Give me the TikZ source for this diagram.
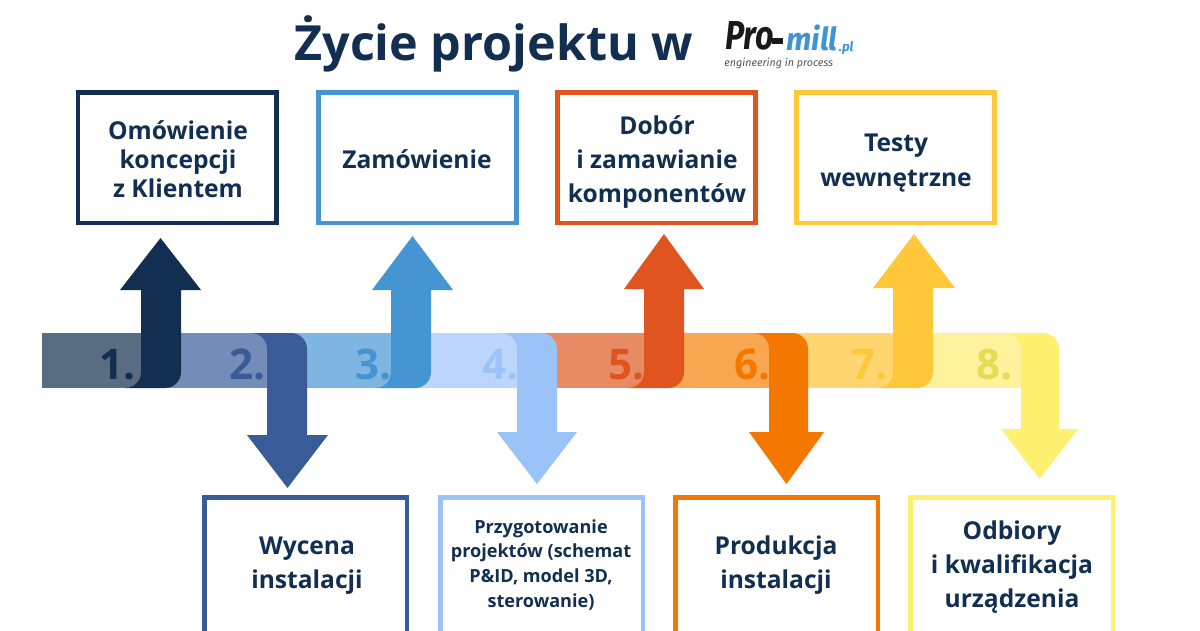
\documentclass[tikz,border=0pt]{standalone}
\usepackage{fontspec}
\setmainfont{Open Sans}
\newfontfamily\logofont{Fira Sans}
\definecolor{navy}{HTML}{122E50}
\definecolor{c1}{HTML}{122E50}\definecolor{b1}{HTML}{5A6C82}
\definecolor{c2}{HTML}{395C99}\definecolor{b2}{HTML}{738DB8}
\definecolor{c3}{HTML}{4595D3}\definecolor{b3}{HTML}{7FB6E1}
\definecolor{c4}{HTML}{9CC3F7}\definecolor{b4}{HTML}{BCD6FB}
\definecolor{c5}{HTML}{E0551F}\definecolor{b5}{HTML}{E68B64}
\definecolor{c6}{HTML}{F47800}\definecolor{b6}{HTML}{F8A650}
\definecolor{c7}{HTML}{FFC73A}\definecolor{b7}{HTML}{FFD670}
\definecolor{c8}{HTML}{FFF06F}\definecolor{b8}{HTML}{FEF29C}
\definecolor{n8}{HTML}{E6DC55}
\definecolor{logoblue}{HTML}{3F93D6}
\definecolor{logogray}{HTML}{555555}
\tikzset{
  x=0.02cm,y=-0.02cm,
  stagebox/.style={draw=#1,line width=0.09cm,fill=white,minimum width=3.97cm,minimum height=2.62cm,inner sep=0pt,anchor=north west},
  lowbox/.style={stagebox=#1,minimum width=4.06cm,minimum height=3.4cm},
  stagetext/.style={inner sep=0pt,align=center,text=navy,font=\fontsize{14}{#1}\selectfont\bfseries},
  numlabel/.style={font=\fontsize{24}{24}\selectfont\bfseries,anchor=base east,inner sep=0pt,text=#1},
}
\newcommand{\uparrowshape}[6]{%
  \fill[#1] (#2,#6) -- (#2,372) .. controls (#2,381) and ({#2-7},388) .. ({#2-16},388)
     -- ({#3-16},388) .. controls ({#3-7},388) and (#3,381) .. (#3,372)
     -- (#3,#6) -- (#5,#6) -- ({(#4+#5)/2},\apexy) -- (#4,#6) -- cycle;}
\newcommand{\downarrowshape}[6]{%
  \fill[#1] (#2,#6) -- (#2,349) .. controls (#2,340) and ({#2-7},333) .. ({#2-16},333)
     -- ({#3-16},333) .. controls ({#3-7},333) and (#3,340) .. (#3,349)
     -- (#3,#6) -- (#5,#6) -- ({(#4+#5)/2},\apexy) -- (#4,#6) -- cycle;}
\begin{document}
\begin{tikzpicture}
\useasboundingbox (0,0) rectangle (1200,630);
\clip (0,0) rectangle (1200,630);
\fill[white] (0,0) rectangle (1200,630);
% bar
\fill[b1] (42,333) rectangle (150,388);
\fill[b2] (150,333) rectangle (280,388);
\fill[b3] (280,333) rectangle (405,388);
\fill[b4] (405,333) rectangle (530,388);
\fill[b5] (530,333) rectangle (660,388);
\fill[b6] (660,333) rectangle (785,388);
\fill[b7] (785,333) rectangle (910,388);
\fill[b8] (910,333) rectangle (1035,388);
% numbers
\node[numlabel=c1] (n1) at (136,379) {1.};
\node[numlabel=c2] (n2) at (266,379) {2.};
\node[numlabel=c3] (n3) at (392,379) {3.};
\node[numlabel=c4] (n4) at (519,379) {4.};
\node[numlabel=c5] (n5) at (645,379) {5.};
\node[numlabel=c6] (n6) at (771,379) {6.};
\node[numlabel=c7] (n7) at (888,379) {7.};
\node[numlabel=n8] (n8) at (1013,379) {8.};
% arrows
\def\apexy{238}\uparrowshape{c1}{141}{181}{120}{201}{290}
\def\apexy{488}\downarrowshape{c2}{267}{307}{247}{328}{435}
\def\apexy{236}\uparrowshape{c3}{391}{431}{372}{453}{290}
\def\apexy{484}\downarrowshape{c4}{517}{557}{497}{577}{432}
\def\apexy{234}\uparrowshape{c5}{644}{684}{624}{704}{289}
\def\apexy{484}\downarrowshape{c6}{769}{808}{749}{824}{432}
\def\apexy{234}\uparrowshape{c7}{893}{933}{873}{955}{288}
\def\apexy{479}\downarrowshape{c8}{1021}{1059}{1001}{1078}{429}
% title
\node[anchor=base west,inner sep=0pt,text=navy,font=\fontsize{27.6}{27.6}\selectfont\bfseries] (title) at (294,60) {Życie projektu w};
% logo
\node[anchor=base west,inner sep=0pt,font=\logofont\fontsize{23}{23}\selectfont\bfseries\itshape,text=black!90] (logoa) at (725,49) {\scalebox{0.8}[1]{Pro}};
\fill[black!90] (772,38) rectangle (783,44);
\node[anchor=base west,inner sep=0pt,font=\logofont\fontsize{18}{18}\selectfont\bfseries\itshape,text=logoblue] (logob) at (786,50) {\scalebox{0.96}[1]{mill}};
\node[anchor=base west,inner sep=0pt,font=\logofont\fontsize{7.5}{8}\selectfont\bfseries\itshape,text=logoblue] (logoc) at (838.5,51) {.pl};
\node[anchor=base west,inner sep=0pt,font=\logofont\fontsize{6.1}{8}\selectfont\itshape,text=logogray] (logod) at (724,66) {engineering in process};
% boxes
\node[stagebox=c1] (box1) at (76,90) {};
\node[stagebox=c3] (box2) at (316,90) {};
\node[stagebox=c5] (box3) at (555,90) {};
\node[stagebox=c7] (box4) at (794,90) {};
\node[lowbox=c2] (box5) at (202,495) {};
\node[lowbox=c4] (box6) at (438,495) {};
\node[lowbox=c6] (box7) at (673,495) {};
\node[lowbox=c8] (box8) at (908,495) {};
% texts
\node[stagetext=16.6] (t1) at (178,159) {Omówienie\\koncepcji\\z Klientem};
\node[stagetext=19.5] (t2) at (417,159) {Zamówienie};
\node[stagetext=19.5] (t3) at (657,162) {Dobór\\ i zamawianie\\komponentów};
\node[stagetext=19.5] (t4) at (896,163) {Testy\\wewnętrzne};
\node[stagetext=19.5] (t5) at (307,566) {Wycena\\instalacji};
\node[stagetext=19,font=\fontsize{10.3}{14.2}\selectfont\bfseries] (t6) at (541,565) {Przygotowanie\\projektów (schemat\\P\&ID, model 3D,\\sterowanie)};
\node[stagetext=19.5] (t7) at (776,565) {Produkcja\\instalacji};
\node[stagetext=19.5] (t8) at (1012,567) {Odbiory\\ i kwalifikacja\\urządzenia};
\end{tikzpicture}
\end{document}
